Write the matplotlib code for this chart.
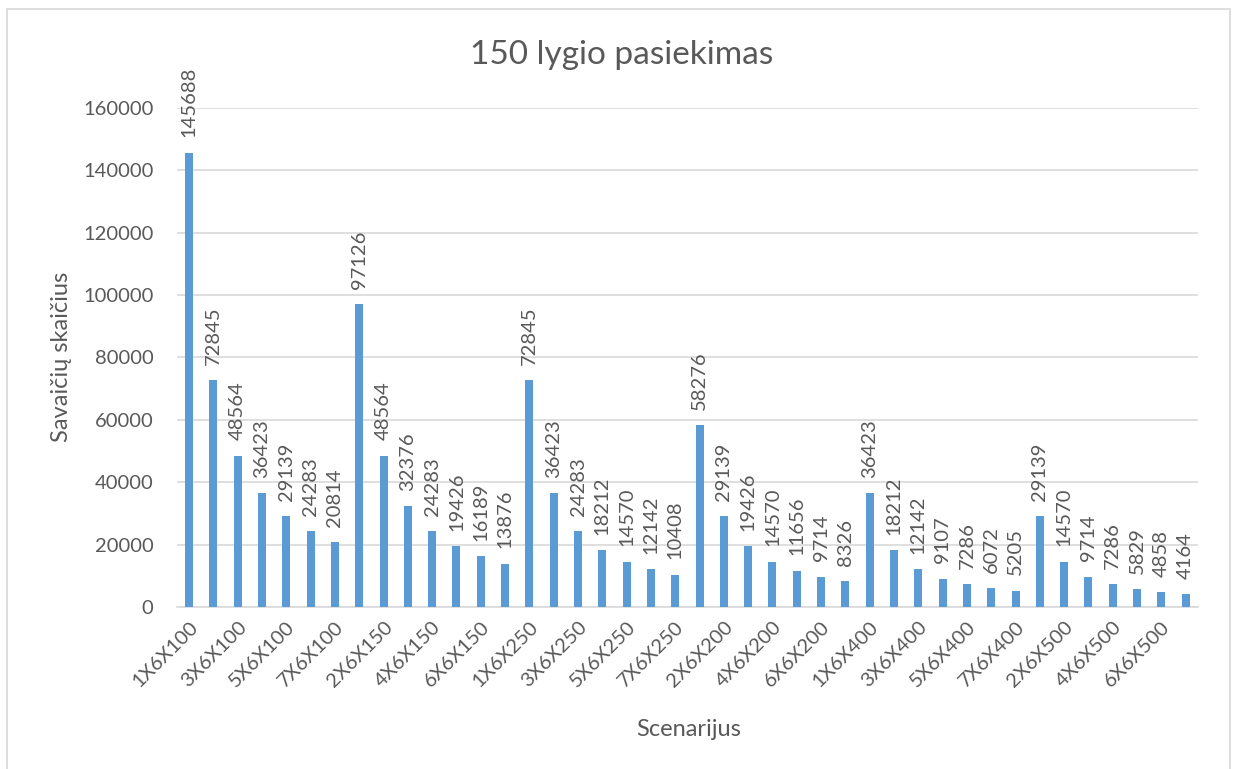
import matplotlib
matplotlib.use("Agg")
from matplotlib import pyplot as plt
from matplotlib.patches import Rectangle
import numpy as np

plt.rcParams['font.family'] = ['Lato', 'DejaVu Sans']

TEXT = '#595959'
BAR = '#5B9BD5'
GRID = '#D9D9D9'

workers = [1, 2, 3, 4, 5, 6, 7]
sizes = [100, 150, 250, 200, 400, 500]
scenarios = ['%dX6X%d' % (w, s) for s in sizes for w in workers]

values = [145688, 72845, 48564, 36423, 29139, 24283, 20814,
          97126, 48564, 32376, 24283, 19426, 16189, 13876,
          72845, 36423, 24283, 18212, 14570, 12142, 10408,
          58276, 29139, 19426, 14570, 11656, 9714, 8326,
          36423, 18212, 12142, 9107, 7286, 6072, 5205,
          29139, 14570, 9714, 7286, 5829, 4858, 4164]

fig = plt.figure(figsize=(12.4, 7.69), dpi=100)
ax = fig.add_axes([0.1427, 0.2107, 0.8233, 0.6489])

# outer chart border (bottom edge runs off the image like the reference)
fig.patches.append(Rectangle((0.006, -0.01), 0.986, 0.998, transform=fig.transFigure,
                             fill=False, edgecolor=GRID, linewidth=1.2))

x = np.arange(len(values))
ax.bar(x, values, width=0.33, color=BAR, zorder=3)
for xi, v in zip(x, values):
    ax.annotate(str(v), (xi, v), xytext=(0, 11), textcoords='offset points',
                rotation=90, ha='center', va='bottom', fontsize=14.5, color=TEXT)

ax.set_xlim(-0.5, len(values) - 0.5)
ax.set_ylim(0, 160000)
ax.set_yticks(np.arange(0, 160001, 20000))
ax.yaxis.grid(True, color=GRID, linewidth=1.2, zorder=0)
ax.set_axisbelow(True)

ax.set_xticks(x[::2])
ax.set_xticklabels(scenarios[::2], rotation=45, ha='right', rotation_mode='anchor')
ax.tick_params(axis='both', length=0, labelsize=14.5, colors=TEXT)
ax.tick_params(axis='x', pad=8)
ax.tick_params(axis='y', pad=17)

for side in ['top', 'right', 'left']:
    ax.spines[side].set_visible(False)
ax.spines['bottom'].set_color(GRID)
ax.spines['bottom'].set_linewidth(1.2)

fig.text(0.05, 0.5355, 'Savaičių skaičius', fontsize=17, color=TEXT, rotation=90,
         ha='center', va='center')
fig.text(0.555, 0.051, 'Scenarijus', fontsize=17, color=TEXT, ha='center', va='center')
fig.text(0.501, 0.928, '150 lygio pasiekimas', fontsize=24, color=TEXT, ha='center', va='center')

fig.savefig('out.png', dpi=100)
